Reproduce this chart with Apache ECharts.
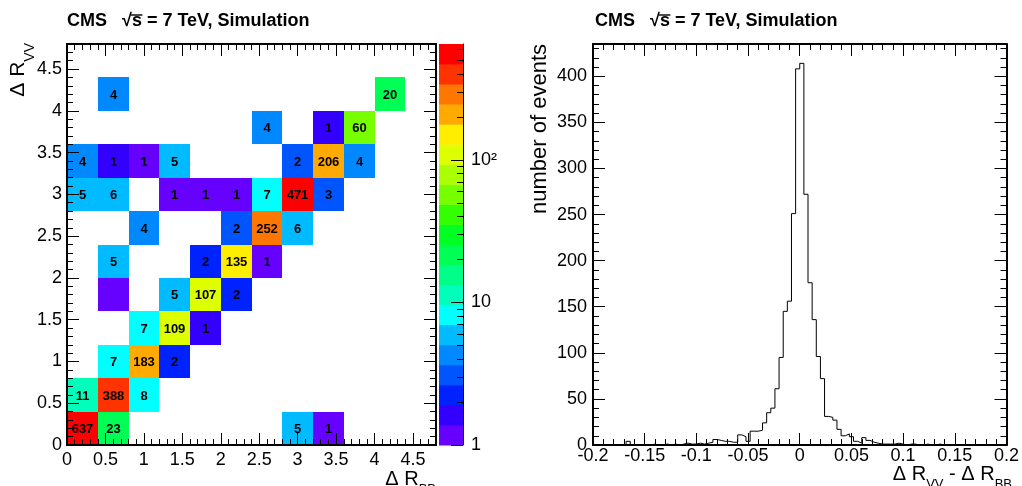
<!DOCTYPE html>
<html><head><meta charset="utf-8">
<script src="https://cdn.jsdelivr.net/npm/echarts@6/dist/echarts.min.js"></script>
<style>html,body{margin:0;padding:0;background:#fff}#c{width:1022px;height:486px}</style>
</head><body><div id="c"></div>
<script>
// ---------- 2D histogram: ΔR_VV vs ΔR_BB (bin low edges, weighted counts) ----------
const cellBinX  = [0, 0.4, 2.8, 3.2,   0, 0.4, 0.8,   0.4, 0.8, 1.2,   0.8, 1.2, 1.6,
                   0.4, 1.2, 1.6, 2.0,   0.4, 1.6, 2.0, 2.4,   0.8, 2.0, 2.4, 2.8,
                   0, 0.4, 1.2, 1.6, 2.0, 2.4, 2.8, 3.2,   0, 0.4, 0.8, 1.2, 2.8, 3.2, 3.6,
                   2.4, 3.2, 3.6,   0.4, 4.0];
const cellBinY  = [0, 0, 0, 0,   0.4, 0.4, 0.4,   0.8, 0.8, 0.8,   1.2, 1.2, 1.2,
                   1.6, 1.6, 1.6, 1.6,   2.0, 2.0, 2.0, 2.0,   2.4, 2.4, 2.4, 2.4,
                   2.8, 2.8, 2.8, 2.8, 2.8, 2.8, 2.8, 2.8,   3.2, 3.2, 3.2, 3.2, 3.2, 3.2, 3.2,
                   3.6, 3.6, 3.6,   4.0, 4.0];
const cellCount = [637, 23, 5.3, 1.1,   11.4, 388, 8.3,   7.3, 183, 2.3,   7.3, 109, 1.5,
                   0.8, 5.3, 107, 2.3,   5.3, 2.3, 135, 1.1,   4.3, 2.8, 252, 6.2,
                   5.3, 6.2, 1.1, 1.1, 1.1, 7.3, 471, 3.2,   4.3, 1.5, 1.1, 5.3, 2.8, 206, 4.3,
                   4.3, 1.5, 60,   4.3, 20];
const binWidth2D = 0.4;
const zMin = 1, zMax = 650;
const colorbarTickLabels = ['1', '10', '10²'];
const palette = ['#6600ff','#3300ff','#0022ff','#0055ff','#0088ff','#00bbff','#00ffff','#00ffbb',
                 '#00ff88','#00ff55','#00ff22','#33ff00','#77ff00','#aaff00','#ddff00','#ffee00',
                 '#ffaa00','#ff7700','#ff3300','#ff0000'];

// ---------- 1D histogram: ΔR_VV - ΔR_BB ----------
const residualLow = -0.2, residualBinWidth = 0.004;
const residualCounts = [
  0,0,0,0,0,0,0,0,4,0,
  0,0,0,0,1,0,0,1,0,1,
  0,1,2,1,1,2,1,2,3,6,
  5,4,4,3,3,11,9,4,15,15,
  16,24,35,40,61,95,145,156,251,408,
  414,272,176,136,96,72,31,30,27,17,
  10,12,9,4,2,8,5,3,2,1,
  1,1,1,2,1,0,1,1,0,0,
  1,0,0,1,0,0,0,0,0,0,
  0,0,0,0,0,0,0,0,0,0];

// ---------- derived structures ----------
const logMax = Math.log10(zMax) - Math.log10(zMin);
const nLev = palette.length, step = logMax / nLev;
const cellData = cellCount.map((v, i) => [cellBinX[i], cellBinY[i], v, Math.log10(v / zMin)]);
const colorbarData = palette.map((c, k) => [k * step, (k + 1) * step, 0, (k + 0.5) * step]);
const pieces = palette.map((c, k) => k === 0 ? {lt: step, color: c}
  : (k === nLev - 1 ? {gte: k * step, color: c} : {gte: k * step, lt: (k + 1) * step, color: c}));
const histData = residualCounts.map((c, k) => [+(residualLow + k * residualBinWidth).toFixed(4), c]);
histData.push([+(residualLow + residualCounts.length * residualBinWidth).toFixed(4), residualCounts[residualCounts.length - 1]]);
const cbMinor = [];
for (let d = 0; d < 3; d++) for (let m = 2; m <= 9; m++) { const v = d + Math.log10(m); if (v < logMax) cbMinor.push(v); }

const FONT = 'Liberation Sans';
function ax(o) {
  return {
    type: 'value', gridIndex: o.grid, position: o.pos, min: o.min, max: o.max, interval: o.interval,
    z: 10, splitLine: {show: false}, show: o.show !== false,
    axisLine: {show: !!o.line, onZero: false, lineStyle: {color: '#000', width: o.lineW || 2}},
    axisTick: Object.assign({show: true, inside: true, length: o.tick || 12, lineStyle: {color: '#000', width: 1}},
                            o.customTicks ? {customValues: o.customTicks} : {}),
    axisLabel: Object.assign({show: !!o.labels, color: '#000', fontFamily: FONT, fontSize: 18,
                              margin: o.margin || 6, showMaxLabel: o.showMax !== false ? null : false,
                              formatter: o.formatter},
                             o.customLabels ? {customValues: o.customLabels} : {})
  };
}

const xAxis = [
  ax({grid: 0, pos: 'bottom', min: 0, max: 4.8, interval: 0.5, line: true, labels: true, margin: 6, showMax: false}),
  ax({grid: 0, pos: 'bottom', min: 0, max: 4.8, interval: 0.1, tick: 6}),
  ax({grid: 0, pos: 'top', min: 0, max: 4.8, interval: 0.5, line: true}),
  ax({grid: 0, pos: 'top', min: 0, max: 4.8, interval: 0.1, tick: 6}),
  ax({grid: 1, pos: 'bottom', min: 0, max: 1, interval: 1, show: false}),
  ax({grid: 2, pos: 'bottom', min: -0.2, max: 0.2, interval: 0.05, line: true, labels: true, margin: 2,
      formatter: v => String(+(+v).toFixed(2))}),
  ax({grid: 2, pos: 'bottom', min: -0.2, max: 0.2, interval: 0.01, tick: 6}),
  ax({grid: 2, pos: 'top', min: -0.2, max: 0.2, interval: 0.05, line: true}),
  ax({grid: 2, pos: 'top', min: -0.2, max: 0.2, interval: 0.01, tick: 6})
];
const yAxis = [
  ax({grid: 0, pos: 'left', min: 0, max: 4.8, interval: 0.5, line: true, labels: true, margin: 5, showMax: false}),
  ax({grid: 0, pos: 'left', min: 0, max: 4.8, interval: 0.1, tick: 6}),
  ax({grid: 0, pos: 'right', min: 0, max: 4.8, interval: 0.5, line: true}),
  ax({grid: 0, pos: 'right', min: 0, max: 4.8, interval: 0.1, tick: 6}),
  ax({grid: 1, pos: 'right', min: 0, max: logMax, line: true, lineW: 1, labels: true, margin: 8,
      customTicks: [0, 1, 2], customLabels: [0, 1, 2], tick: 12,
      formatter: v => colorbarTickLabels[Math.round(v)]}),
  ax({grid: 1, pos: 'right', min: 0, max: logMax, customTicks: cbMinor, tick: 6}),
  ax({grid: 2, pos: 'left', min: 0, max: 435, interval: 50, line: true, labels: true, margin: 6, showMax: false}),
  ax({grid: 2, pos: 'left', min: 0, max: 435, interval: 10, tick: 6}),
  ax({grid: 2, pos: 'right', min: 0, max: 435, interval: 50, line: true}),
  ax({grid: 2, pos: 'right', min: 0, max: 435, interval: 10, tick: 6})
];

const mctx = document.createElement('canvas').getContext('2d');
function textW(t, font) { mctx.font = font; return mctx.measureText(t).width; }
const titleFont = 'bold 18px "Liberation Sans"';
const titleText = 'CMS   √s = 7 TeV, Simulation';
function titleGraphics(x0) {
  const a = textW('CMS   √', titleFont), b = textW('CMS   √s', titleFont);
  return [
    {type: 'text', x: x0, y: 21.5, z: 100, style: {text: titleText, font: titleFont, fill: '#000', align: 'left', verticalAlign: 'middle'}},
    {type: 'line', z: 100, shape: {x1: x0 + a - 1, y1: 15, x2: x0 + b + 0.5, y2: 15}, style: {stroke: '#000', lineWidth: 1.4}}
  ];
}
// text with subscripts; (x,y) = anchor near the main-text baseline; alignment 'left' or 'right'
function subText(x, y, parts, main, sub, align, rotation) {
  const fm = main + 'px "Liberation Sans"', fs = sub + 'px "Liberation Sans"';
  const ws = parts.map(p => textW(p[0], p[1] ? fs : fm));
  const total = ws.reduce((a, b) => a + b, 0);
  let cx = align === 'right' ? -total : 0;
  const children = parts.map((p, i) => {
    const el = {type: 'text', x: cx, y: p[1] ? Math.round(main * 0.36) : 0,
      style: {text: p[0], font: p[1] ? fs : fm, fill: '#000', align: 'left', verticalAlign: 'bottom'}};
    cx += ws[i];
    return el;
  });
  return {type: 'group', x, y, rotation: rotation || 0, z: 100, children};
}
function bl(size) { return Math.round(size * 0.21); }

const graphic = [].concat(
  titleGraphics(67), titleGraphics(595),
  [
    subText(25 + bl(21), 43, [['Δ R', 0], ['VV', 1]], 21, 14, 'right', Math.PI / 2),
    subText(436, 485 + bl(20), [['Δ R', 0], ['BB', 1]], 20, 13, 'right', 0),
    subText(1012, 480 + bl(20), [['Δ R', 0], ['VV', 1], [' - Δ R', 0], ['BB', 1]], 20, 13, 'right', 0),
    {type: 'text', x: 539.5, y: 44, rotation: Math.PI / 2, z: 100,
     style: {text: 'number of events', font: '22px "Liberation Sans"', fill: '#000', align: 'right', verticalAlign: 'middle'}}
  ]
);

const option = {
  animation: false,
  backgroundColor: '#fff',
  grid: [
    {left: 67, top: 44, width: 369, height: 401, containLabel: false},
    {left: 439, top: 44, width: 24, height: 401, containLabel: false},
    {left: 593, top: 44, width: 419, height: 401, containLabel: false}
  ],
  xAxis, yAxis,
  visualMap: {type: 'piecewise', show: false, dimension: 3, seriesIndex: [0, 1], pieces},
  series: [
    {
      type: 'custom', xAxisIndex: 0, yAxisIndex: 0, data: cellData, z: 2,
      renderItem(params, api) {
        const x0 = api.value(0), y0 = api.value(1), v = api.value(2);
        const p0 = api.coord([x0, y0]), p1 = api.coord([x0 + binWidth2D, y0 + binWidth2D]);
        const L = Math.round(p0[0]), R = Math.round(p1[0]), T = Math.round(p1[1]), B = Math.round(p0[1]);
        const children = [{type: 'rect', shape: {x: L, y: T, width: R - L, height: B - T}, style: {fill: api.visual('color')}}];
        const lab = Math.floor(v);
        if (lab >= 1) children.push({type: 'text', style: {text: String(lab), x: (L + R) / 2, y: (T + B) / 2 + 1,
          align: 'center', verticalAlign: 'middle', font: 'bold 13px "Liberation Sans"', fill: '#000'}});
        return {type: 'group', children};
      }
    },
    {
      type: 'custom', xAxisIndex: 4, yAxisIndex: 4, data: colorbarData, z: 2,
      renderItem(params, api) {
        const p0 = api.coord([0, api.value(0)]), p1 = api.coord([1, api.value(1)]);
        return {type: 'rect', shape: {x: p0[0], y: p1[1], width: p1[0] - p0[0], height: p0[1] - p1[1] + 0.5},
                style: {fill: api.visual('color')}};
      }
    },
    {
      type: 'line', xAxisIndex: 5, yAxisIndex: 6, data: histData, step: 'end',
      showSymbol: false, symbol: 'none', z: 3,
      lineStyle: {color: '#000', width: 1}
    }
  ],
  graphic
};
const chart = echarts.init(document.getElementById('c'), null, {renderer: 'canvas'});
chart.setOption(option);
</script></body></html>
